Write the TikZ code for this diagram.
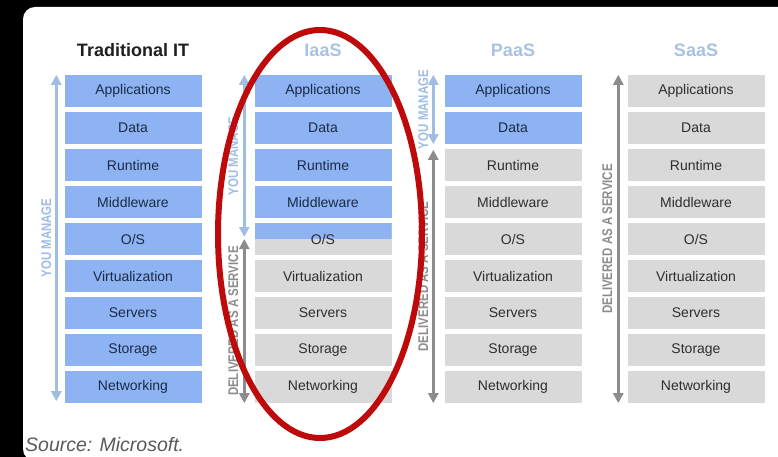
\documentclass[tikz,border=0pt]{standalone}
\usepackage{fontspec}
\setmainfont{Liberation Sans}
\usetikzlibrary{arrows.meta}
\definecolor{layerblue}{HTML}{8DB3F2}
\definecolor{layergray}{HTML}{D9D9D9}
\definecolor{navytext}{HTML}{1B2A47}
\definecolor{graytext}{HTML}{2E2E2E}
\definecolor{mgblue}{HTML}{A0BDE3}
\definecolor{headblue}{HTML}{A9C2E4}
\definecolor{svcgray}{HTML}{8C8C8C}
\definecolor{ovalred}{HTML}{BE0A0A}
\definecolor{srcgray}{HTML}{5A5A5A}
\tikzset{
  layer/.style={minimum width=137pt,minimum height=32pt,inner sep=0pt,font=\fontsize{14}{14}\selectfont},
  own/.style={layer,fill=layerblue,text=navytext},
  svc/.style={layer,fill=layergray,text=graytext},
  split/.style={svc,path picture={\fill[layerblue] (path picture bounding box.north west) rectangle (path picture bounding box.east);}},
  head/.style={font=\bfseries\fontsize{18}{18}\selectfont},
  side/.style={rotate=90,inner sep=0pt,font=\bfseries\fontsize{14}{14}\selectfont},
  tip/.tip={Triangle[length=10pt,width=10pt]},
  mgarrow/.style={mgblue,line width=3pt,tip-tip},
  svcarrow/.style={svcgray,line width=3pt,tip-tip},
}
\newcommand{\sidetext}[1]{\scalebox{0.82}[1]{#1}}
\begin{document}
\begin{tikzpicture}[x=1pt,y=-1pt]
\clip (0,0) rectangle (778,457);
\fill[black] (0,0) rectangle (778,457);
\fill[white,rounded corners=12pt] (23,7) rectangle (800,461);
\node[head,text=black!88] (tradHead) at (133,50) {Traditional IT};
\node[head,text=headblue] (iaasHead) at (323,50) {IaaS};
\node[head,text=headblue] (paasHead) at (513,50) {PaaS};
\node[head,text=headblue] (saasHead) at (696,50) {SaaS};
\foreach \col/\cx/\k/\s in {trad/133/9/0,iaas/323/4/5,paas/513/2/0,saas/696/0/0}{
  \foreach \lbl [count=\i] in {Applications,Data,Runtime,Middleware,O/S,Virtualization,Servers,Storage,Networking}{
    \ifnum\i>\k \tikzset{cur/.style=svc}\else\tikzset{cur/.style=own}\fi
    \ifnum\i=\s \tikzset{cur/.style=split}\fi
    \node[cur] (\col-\i) at (\cx,{91+37*(\i-1)}) {\lbl};
  }
}
\draw[mgarrow] ([xshift=-8pt]trad-1.north west) -- ([xshift=-8pt,yshift=2pt]trad-9.south west)
  node[midway,xshift=-10pt,side,text=mgblue] {\sidetext{YOU MANAGE}};
\draw[mgarrow] ([xshift=-10pt]iaas-1.north west) -- ([xshift=-10pt,yshift=2pt]iaas-5.west)
  node[midway,xshift=-11pt,side,text=mgblue] {\sidetext{YOU MANAGE}};
\draw[svcarrow] ([xshift=-10pt]iaas-5.west) -- ([xshift=-10pt]iaas-9.south west)
  node[midway,xshift=-11pt,side,text=svcgray] {\sidetext{DELIVERED AS A SERVICE}};
\draw[mgarrow] ([xshift=-11pt]paas-1.north west) -- ([xshift=-11pt]paas-2.south west)
  node[midway,xshift=-10pt,side,text=mgblue] {\sidetext{YOU MANAGE}};
\draw[svcarrow] ([xshift=-11pt,yshift=-1pt]paas-3.north west) -- ([xshift=-11pt]paas-9.south west)
  node[midway,xshift=-10pt,side,text=svcgray] {\sidetext{DELIVERED AS A SERVICE}};
\draw[svcarrow] ([xshift=-9pt]saas-1.north west) -- ([xshift=-9pt]saas-9.south west)
  node[midway,xshift=-11pt,side,text=svcgray] {\sidetext{DELIVERED AS A SERVICE}};
\draw[ovalred,line width=6pt] (320,234) ellipse [x radius=102,y radius=204];
\node[anchor=west,inner sep=0pt,text=srcgray,font=\itshape\fontsize{19.5}{20}\selectfont] (source) at (25,445) {Source: Microsoft.};
\end{tikzpicture}
\end{document}
